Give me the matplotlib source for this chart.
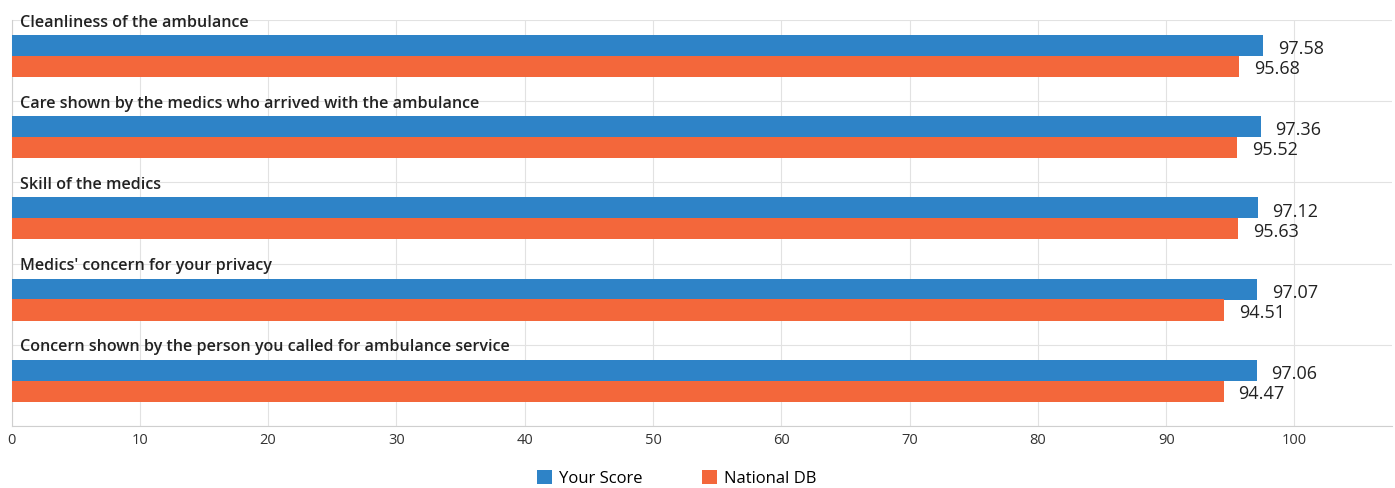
import matplotlib
matplotlib.use("Agg")
import matplotlib.pyplot as plt
from matplotlib.patches import Patch

plt.rcParams["font.family"] = ["Open Sans", "DejaVu Sans"]

# ── Data ──────────────────────────────────────────────────────────────────────
categories = [
    "Cleanliness of the ambulance",
    "Care shown by the medics who arrived with the ambulance",
    "Skill of the medics",
    "Medics' concern for your privacy",
    "Concern shown by the person you called for ambulance service",
]
your_score  = [97.58, 97.36, 97.12, 97.07, 97.06]
national_db = [95.68, 95.52, 95.63, 94.51, 94.47]
series_names = ["Your Score", "National DB"]
x_ticks = [0, 10, 20, 30, 40, 50, 60, 70, 80, 90, 100]

BLUE   = "#2e83c7"
ORANGE = "#f3673b"
GRID   = "#e2e2e2"
TEXT   = "#222222"

W, H = 1395, 489
fig = plt.figure(figsize=(W / 100, H / 100), dpi=100, facecolor="white")
ax = fig.add_axes([11.5 / W, (H - 427) / H, (1392 - 11.5) / W, (427 - 21) / H])

bar_h = 0.26
for i, cat in enumerate(categories):
    y_blue = i + 0.314
    y_orng = i + 0.572
    ax.barh(y_blue, your_score[i], height=bar_h, color=BLUE, zorder=3)
    ax.barh(y_orng, national_db[i], height=bar_h, color=ORANGE, zorder=3)
    ax.text(your_score[i] + 1.15, i + 0.41, f"{your_score[i]:.2f}",
            fontsize=13, color=TEXT, va="baseline", ha="left")
    ax.text(national_db[i] + 1.15, i + 0.655, f"{national_db[i]:.2f}",
            fontsize=13, color=TEXT, va="baseline", ha="left")
    ax.text(0.7, i + 0.07, cat, fontsize=11.6, fontweight="semibold",
            color=TEXT, va="baseline", ha="left", zorder=4)

ax.set_xlim(0, 107.6)
ax.set_ylim(len(categories), 0)
ax.set_xticks(x_ticks)
ax.set_yticks(range(len(categories) + 1))
ax.set_yticklabels([])
ax.tick_params(axis="y", length=0)
ax.tick_params(axis="x", length=0, labelsize=10.5, labelcolor="#333333", pad=4)

ax.grid(True, color=GRID, linewidth=0.8, zorder=0)
for side in ["top", "right"]:
    ax.spines[side].set_visible(False)
ax.spines["left"].set_color("#cfcfcf")
ax.spines["bottom"].set_color("#cfcfcf")

handles = [Patch(facecolor=BLUE), Patch(facecolor=ORANGE)]
fig.legend(handles, series_names, loc="center", bbox_to_anchor=(0.485, 1 - 479 / H),
           ncol=2, frameon=False, fontsize=12, handlelength=0.9, handleheight=0.9,
           handletextpad=0.4, columnspacing=3.6,
           prop={"size": 12, "weight": "medium"})

fig.savefig("out.png", dpi=100, facecolor="white")
